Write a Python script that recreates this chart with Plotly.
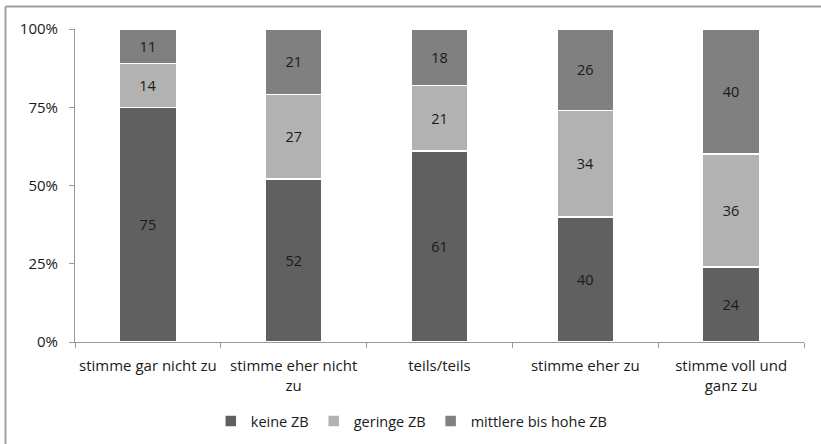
import plotly.graph_objects as go

categories = ["stimme gar nicht zu", "stimme eher nicht<br>zu", "teils/teils",
              "stimme eher zu", "stimme voll und<br>ganz zu"]
keine_zb = [75, 52, 61, 40, 24]
geringe_zb = [14, 27, 21, 34, 36]
mittlere_hohe_zb = [11, 21, 18, 26, 40]

series = [
    ("keine ZB", keine_zb, "#606060"),
    ("geringe ZB", geringe_zb, "#b2b2b2"),
    ("mittlere bis hohe ZB", mittlere_hohe_zb, "#808080"),
]

FONT = "Open Sans"
TXT = "#1a1a1a"

fig = go.Figure()
for name, vals, col in series:
    fig.add_trace(go.Bar(
        x=categories, y=vals, name=name,
        marker=dict(color=col, line=dict(color="white", width=1.5)),
        text=[str(v) for v in vals], textposition="inside",
        insidetextanchor="middle",
        textfont=dict(family=FONT, size=14.5, color=TXT),
        width=0.39,
    ))

W, H = 821, 444
ml, mr, mt, mb = 75, 17, 29, 102
pw, ph = W - ml - mr, H - mt - mb

def px_x(x):
    return (x - ml) / pw

def px_y(y):
    return (H - mb - y) / ph

fig.update_layout(
    width=W, height=H,
    margin=dict(l=ml, r=mr, t=mt, b=mb, autoexpand=False),
    barmode="stack",
    plot_bgcolor="white", paper_bgcolor="white",
    font=dict(family=FONT, size=15, color=TXT),
    showlegend=True,
    legend=dict(orientation="h", x=0.462, xanchor="center", y=px_y(421), yanchor="middle",
                font=dict(family=FONT, size=14.5, color=TXT),
                itemwidth=30, traceorder="normal", tracegroupgap=0),
    uniformtext=dict(mode="show", minsize=14),
    xaxis=dict(showline=True, linecolor="#999999", linewidth=1,
               ticks="outside", tickson="boundaries", ticklen=5, tickcolor="#999999",
               ticklabelstandoff=10, tickangle=0, automargin=False,
               tickfont=dict(family=FONT, size=15, color=TXT),
               showgrid=False, fixedrange=True),
    yaxis=dict(range=[0, 100], tickvals=[0, 25, 50, 75, 100],
               ticktext=["0%", "25%", "50%", "75%", "100%"],
               showline=True, linecolor="#999999", linewidth=1,
               ticks="outside", ticklen=5, tickcolor="#999999",
               ticklabelstandoff=8, automargin=False,
               tickfont=dict(family=FONT, size=15, color=TXT),
               showgrid=False, zeroline=False, fixedrange=True),
    shapes=[
        dict(type="line", xref="paper", yref="paper",
             x0=px_x(5.5), x1=px_x(5.5), y0=px_y(6.5), y1=px_y(460),
             line=dict(color="#a0a0a0", width=2)),
        dict(type="line", xref="paper", yref="paper",
             x0=px_x(5.5), x1=px_x(840), y0=px_y(6.5), y1=px_y(6.5),
             line=dict(color="#a0a0a0", width=2)),
    ],
)

fig.write_html("out.html")
